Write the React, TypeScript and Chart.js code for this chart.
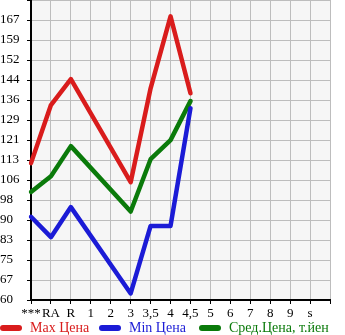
import React, { useEffect, useRef } from "react";
import { Chart, registerables } from "chart.js";

Chart.register(...registerables);

const categories = ["***", "RA", "R", "1", "2", "3", "3,5", "4", "4,5", "5", "6", "7", "8", "9", "s", ""];
const yTickLabels = ["60", "67", "75", "83", "90", "98", "106", "113", "121", "129", "136", "144", "152", "159", "167", ""];
const maxPrice = [112.3, 134.5, 144.4, null, null, 105, 140.9, 168.4, 139];
const minPrice = [91.8, 84.0, 95.5, null, null, 62.5, 88.3, 88.3, 133.3];
const avgPrice = [101.3, 107.3, 118.8, null, null, 93.8, 113.8, 121.1, 136];

const Y_MIN = 60;
const Y_STEP = 107 / 14;

const RED = "#d91c1c";
const BLUE = "#1b1bd6";
const GREEN = "#0a7a0a";
const FONT = "'Liberation Serif', 'Times New Roman', serif";

const legendItems = [
  { text: "Max Цена", color: RED, x: 0 },
  { text: "Min Цена", color: BLUE, x: 99 },
  { text: "Сред.Цена, т.йен", color: GREEN, x: 199 },
];

const bgPlugin = {
  id: "plotBg",
  beforeDraw(chart: any) {
    const { ctx, chartArea } = chart;
    ctx.save();
    ctx.fillStyle = "#f6f6f6";
    ctx.fillRect(chartArea.left, chartArea.top, chartArea.right - chartArea.left, chartArea.bottom - chartArea.top);
    ctx.restore();
  },
};

const legendPlugin = {
  id: "customLegend",
  afterDraw(chart: any) {
    const { ctx } = chart;
    const y = 328;
    ctx.save();
    legendItems.forEach((it) => {
      ctx.strokeStyle = it.color;
      ctx.lineWidth = 6;
      ctx.lineCap = "round";
      ctx.beginPath();
      ctx.moveTo(it.x + 3, y);
      ctx.lineTo(it.x + 19, y);
      ctx.stroke();
      ctx.fillStyle = it.color;
      ctx.font = `14px ${FONT}`;
      ctx.textBaseline = "middle";
      ctx.textAlign = "left";
      ctx.fillText(it.text, it.x + 30, y);
    });
    ctx.restore();
  },
};

export default function App() {
  const ref = useRef<HTMLCanvasElement>(null);
  useEffect(() => {
    if (!ref.current) return;
    const mk = (label: string, data: any[], color: string) => ({
      label,
      data,
      borderColor: color,
      backgroundColor: color,
      borderWidth: 4.5,
      pointRadius: 0,
      pointHoverRadius: 0,
      borderCapStyle: "round",
      borderJoinStyle: "round",
      spanGaps: true,
      tension: 0,
      fill: false,
    });
    const chart = new Chart(ref.current, {
      type: "line",
      data: {
        labels: categories,
        datasets: [
          mk("Max Цена", maxPrice, RED),
          mk("Min Цена", minPrice, BLUE),
          mk("Сред.Цена, т.йен", avgPrice, GREEN),
        ],
      },
      plugins: [bgPlugin, legendPlugin],
      options: {
        animation: false,
        responsive: false,
        maintainAspectRatio: false,
        layout: { padding: { left: 0, right: 15, top: 0, bottom: 0 } },
        plugins: { legend: { display: false }, tooltip: { enabled: false } },
        scales: {
          x: {
            type: "category",
            offset: false,
            grid: { color: "#bdbdbd", lineWidth: 1, tickLength: 4, tickColor: "#000", drawTicks: true },
            border: { color: "#000", width: 2 },
            ticks: {
              color: "#000",
              font: { family: FONT, size: 13 },
              padding: 2,
              maxRotation: 0,
              autoSkip: false,
            },
            afterFit(scale: any) {
              scale.height = 35;
              scale.paddingLeft = 0;
              scale.paddingRight = 0;
            },
          },
          y: {
            type: "linear",
            min: Y_MIN,
            max: Y_MIN + Y_STEP * 15,
            grid: { color: "#bdbdbd", lineWidth: 1, tickLength: 4, tickColor: "#000" },
            border: { color: "#000", width: 2 },
            afterBuildTicks(scale: any) {
              scale.ticks = yTickLabels.map((_, i) => ({ value: Y_MIN + Y_STEP * i }));
            },
            ticks: {
              color: "#000",
              font: { family: FONT, size: 13 },
              crossAlign: "far",
              callback: (_v: any, i: number) => yTickLabels[i],
            },
            afterFit(scale: any) {
              scale.width = 31;
              scale.paddingTop = 0;
              scale.paddingBottom = 0;
            },
          },
        },
      } as any,
    });
    return () => chart.destroy();
  }, []);
  return (
    <div style={{ position: "fixed", left: 0, top: 0, width: 345, height: 335 }}>
      <canvas ref={ref} width={345} height={335} style={{ width: 345, height: 335 }} />
    </div>
  );
}
